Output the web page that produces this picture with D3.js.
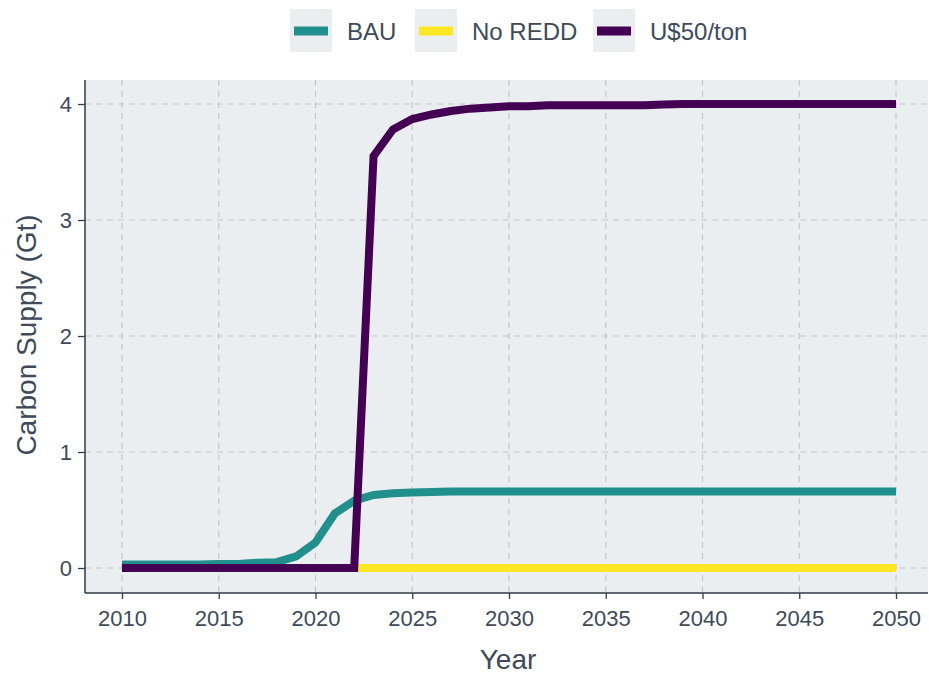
<!DOCTYPE html>
<html><head><meta charset="utf-8">
<script src="https://cdn.jsdelivr.net/npm/d3@7"></script>
<style>body{margin:0;background:#fff}svg{display:block}text{font-family:"Liberation Sans",Arial,sans-serif}</style>
</head><body><svg id="c" width="929" height="675"></svg>
<script>
const years = d3.range(2010, 2051);
const seriesNames = ["BAU", "No REDD", "U$50/ton"];
const seriesColors = ["#21908C", "#FDE725", "#440154"];
const bau = [0.03,0.03,0.03,0.03,0.03,0.035,0.035,0.045,0.05,0.1,0.22,0.47,0.58,0.63,0.645,0.65,0.655,0.66,0.66,0.66,
  0.66,0.66,0.66,0.66,0.66,0.66,0.66,0.66,0.66,0.66,0.66,0.66,0.66,0.66,0.66,0.66,0.66,0.66,0.66,0.66,0.66];
const noRedd = years.map(() => 0);
const usd50 = [0,0,0,0,0,0,0,0,0,0,0,0,0,3.55,3.78,3.87,3.91,3.94,3.96,3.97,3.98,3.98,3.99,3.99,3.99,3.99,3.99,3.99,3.995,4,
  4,4,4,4,4,4,4,4,4,4,4];
const xTicks = [2010,2015,2020,2025,2030,2035,2040,2045,2050];
const yTicks = [0,1,2,3,4];

const svg = d3.select("#c");
const L = 85, R = 928, T = 80, B = 593;
const x = d3.scaleLinear().domain([2010, 2050]).range([122, 896]);
const y = d3.scaleLinear().domain([0, 4]).range([568, 104]);
const textCol = "#3D4A5A", axisCol = "#2E3B4A";
const FF = '"Liberation Sans",Arial,sans-serif';

svg.append("rect").attr("x", L).attr("y", T).attr("width", R - L).attr("height", B - T).attr("fill", "#EBEEF0");
// grid
const g = svg.append("g");
xTicks.forEach(t => g.append("line").attr("x1", x(t)).attr("x2", x(t)).attr("y1", T).attr("y2", B)
  .attr("stroke", "#C4C7C9").attr("stroke-width", 1.2).attr("stroke-dasharray", "6,5"));
yTicks.forEach(t => g.append("line").attr("x1", L).attr("x2", R).attr("y1", y(t)).attr("y2", y(t))
  .attr("stroke", "#C4C7C9").attr("stroke-width", 1.2).attr("stroke-dasharray", "6,5"));

const data = [bau, noRedd, usd50];
const line = d3.line().x((d, i) => x(years[i])).y(d => y(d)).curve(d3.curveLinear);
data.forEach((s, k) => svg.append("path").attr("d", line(s)).attr("fill", "none")
  .attr("stroke", seriesColors[k]).attr("stroke-width", 8).attr("stroke-linejoin", "miter").attr("stroke-linecap", "butt"));

// axes
const xa = svg.append("g").attr("transform", `translate(0,${B})`).call(d3.axisBottom(x).tickValues(xTicks).tickFormat(d3.format("d")).tickSize(6).tickPadding(11));
const ya = svg.append("g").attr("transform", `translate(${L},0)`).call(d3.axisLeft(y).tickValues(yTicks).tickFormat(d3.format("d")).tickSize(7).tickPadding(6));
[xa, ya].forEach(a => {
  a.select(".domain").remove();
  a.selectAll("line").attr("stroke", axisCol).attr("stroke-width", 1.3);
  a.selectAll("text").attr("fill", textCol).attr("font-size", 22).attr("font-family", FF);
});
svg.append("line").attr("x1", L).attr("x2", L).attr("y1", T).attr("y2", B).attr("stroke", axisCol).attr("stroke-width", 1.5);
svg.append("line").attr("x1", L).attr("x2", R).attr("y1", B).attr("y2", B).attr("stroke", axisCol).attr("stroke-width", 1.5);

svg.append("text").attr("x", 508).attr("y", 669).attr("text-anchor", "middle").attr("fill", textCol).attr("font-size", 28).text("Year");
svg.append("text").attr("transform", "translate(36,335) rotate(-90)").attr("text-anchor", "middle").attr("fill", textCol).attr("font-size", 28).text("Carbon Supply (Gt)");

// legend
const legX = [290, 415, 593];
seriesNames.forEach((n, k) => {
  const lg = svg.append("g").attr("transform", `translate(${legX[k]},9)`);
  lg.append("rect").attr("width", 42).attr("height", 43).attr("fill", "#EBEEF0");
  lg.append("line").attr("x1", 4).attr("x2", 38).attr("y1", 22).attr("y2", 22).attr("stroke", seriesColors[k]).attr("stroke-width", 9);
  lg.append("text").attr("x", 57).attr("y", 31).attr("fill", textCol).attr("font-size", 24).text(n);
});
</script></body></html>
